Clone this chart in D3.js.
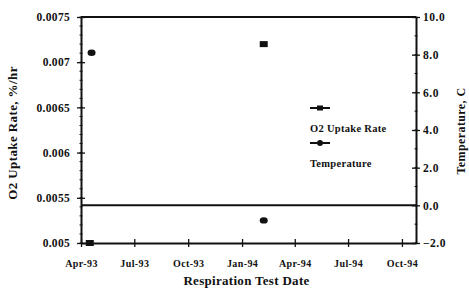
<!DOCTYPE html>
<html>
<head>
<meta charset="utf-8">
<script src="https://cdn.jsdelivr.net/npm/d3@7"></script>
<style>
  body { margin: 0; background: #fff; }
  text { font-family: "Liberation Serif", serif; font-weight: bold; fill: #111; }
  .axis path, .axis line { stroke: #111; }
</style>
</head>
<body>
<script>
// data
var o2Dates = ["1993-04-16", "1994-02-07"];
var o2Rates = [0.005, 0.0072];
var tempDates = ["1993-04-19", "1994-02-07"];
var tempValues = [8.1, -0.8];
var o2Ticks = [0.005, 0.0055, 0.006, 0.0065, 0.007, 0.0075];
var tempTicks = [-2, 0, 2, 4, 6, 8, 10];
var seriesNames = ["O2 Uptake Rate", "Temperature"];

var margin = {top: 17, right: 53, bottom: 48, left: 81},
    width = 469 - margin.left - margin.right,
    height = 291 - margin.top - margin.bottom;

var parseDate = d3.timeParse("%Y-%m-%d");

var x = d3.scaleTime()
    .domain([new Date(1993, 3, 1), new Date(1994, 9, 25)])
    .range([0, width]);
var yL = d3.scaleLinear().domain([0.005, 0.0075]).range([height, 0]);
var yR = d3.scaleLinear().domain([-2, 10]).range([height, 0]);

var svg = d3.select("body").append("svg")
    .attr("width", 469)
    .attr("height", 291)
  .append("g")
    .attr("transform", "translate(" + margin.left + "," + margin.top + ")");

// top frame line and zero temperature line
svg.append("line")
    .attr("x1", 0).attr("x2", width)
    .attr("y1", 0).attr("y2", 0)
    .attr("stroke", "#111").attr("stroke-width", 2);
svg.append("line")
    .attr("x1", 0).attr("x2", width)
    .attr("y1", yR(0)).attr("y2", yR(0))
    .attr("stroke", "#111").attr("stroke-width", 2);

// minor ticks
var minorL = d3.range(0.005, 0.0075001, 0.0001);
svg.append("g").selectAll("line").data(minorL).enter().append("line")
    .attr("x1", -1.5).attr("x2", 1.5)
    .attr("y1", function(d) { return yL(d); })
    .attr("y2", function(d) { return yL(d); })
    .attr("stroke", "#111");
var minorR = d3.range(-2, 10.001, 1);
svg.append("g").selectAll("line").data(minorR).enter().append("line")
    .attr("x1", width - 1.5).attr("x2", width + 1.5)
    .attr("y1", function(d) { return yR(d); })
    .attr("y2", function(d) { return yR(d); })
    .attr("stroke", "#111");

// x axis
var xTicks = d3.timeMonth.every(3).range(new Date(1993, 3, 1), new Date(1994, 10, 1));
var xAxis = svg.append("g")
    .attr("class", "axis")
    .attr("transform", "translate(0," + height + ")")
    .call(d3.axisBottom(x).tickValues(xTicks).tickFormat(d3.timeFormat("%b-%y"))
      .tickSizeInner(4).tickSizeOuter(0).tickPadding(13));
xAxis.select(".domain").attr("stroke-width", 2);
xAxis.selectAll(".tick line").attr("y1", -4).attr("stroke-width", 1.3);
xAxis.selectAll("text").style("font-size", "10px").style("letter-spacing", "0.4px");

// left axis
var left = svg.append("g")
    .attr("class", "axis")
    .call(d3.axisLeft(yL).tickValues(o2Ticks)
      .tickFormat(function(d) { return String(+d.toFixed(4)); })
      .tickSizeInner(4).tickSizeOuter(0).tickPadding(7));
left.select(".domain").attr("stroke-width", 2);
left.selectAll(".tick line").attr("x2", 4).attr("x1", -4).attr("stroke-width", 1.3);
left.selectAll("text").style("font-size", "11.5px").style("letter-spacing", "0.3px");

// right axis
var right = svg.append("g")
    .attr("class", "axis")
    .attr("transform", "translate(" + width + ",0)")
    .call(d3.axisRight(yR).tickValues(tempTicks)
      .tickFormat(d3.format(".1f"))
      .tickSizeInner(4).tickSizeOuter(0).tickPadding(3));
right.select(".domain").attr("stroke-width", 2);
right.selectAll(".tick line").attr("x1", -4).attr("stroke-width", 1.3);
right.selectAll("text").style("font-size", "11.5px").style("letter-spacing", "0.5px");

// O2 uptake points (squares)
svg.append("g").selectAll("rect")
    .data(o2Dates.map(function(d, i) { return {date: parseDate(d), v: o2Rates[i]}; }))
  .enter().append("rect")
    .attr("x", function(d) { return x(d.date) - 4; })
    .attr("y", function(d) { return yL(d.v) - 3; })
    .attr("width", 8).attr("height", 6)
    .attr("fill", "#111");

// temperature points (circles)
svg.append("g").selectAll("ellipse")
    .data(tempDates.map(function(d, i) { return {date: parseDate(d), v: tempValues[i]}; }))
  .enter().append("ellipse")
    .attr("cx", function(d) { return x(d.date); })
    .attr("cy", function(d) { return yR(d.v); })
    .attr("rx", 4).attr("ry", 3.2)
    .attr("fill", "#111");

// legend
var legend = svg.append("g").attr("transform", "translate(229,91)");
seriesNames.forEach(function(name, i) {
  var g = legend.append("g").attr("transform", "translate(0," + (i * 35) + ")");
  g.append("line").attr("x1", 0).attr("x2", 20).attr("y1", 0).attr("y2", 0)
      .attr("stroke", "#111").attr("stroke-width", 2);
  if (i === 0) {
    g.append("rect").attr("x", 7).attr("y", -2.5).attr("width", 6).attr("height", 5).attr("fill", "#111");
  } else {
    g.append("circle").attr("cx", 10).attr("cy", 0).attr("r", 3).attr("fill", "#111");
  }
  g.append("text").attr("x", 0).attr("y", 24).style("font-size", "10.5px")
      .style("letter-spacing", "0.3px").text(name);
});

// axis titles
svg.append("text")
    .attr("transform", "translate(" + (-64) + "," + (height / 2 + 3) + ") rotate(-90)")
    .attr("text-anchor", "middle")
    .style("font-size", "13px")
    .style("letter-spacing", "0.4px")
    .text("O2 Uptake Rate, %/hr");

svg.append("text")
    .attr("transform", "translate(" + (width + 49) + "," + (height / 2 + 1) + ") rotate(-90)")
    .attr("text-anchor", "middle")
    .style("font-size", "12px")
    .style("letter-spacing", "0.4px")
    .text("Temperature, C");

svg.append("text")
    .attr("x", width / 2 - 2)
    .attr("y", height + 42)
    .attr("text-anchor", "middle")
    .style("font-size", "13px")
    .style("letter-spacing", "0.3px")
    .text("Respiration Test Date");
</script>
</body>
</html>
